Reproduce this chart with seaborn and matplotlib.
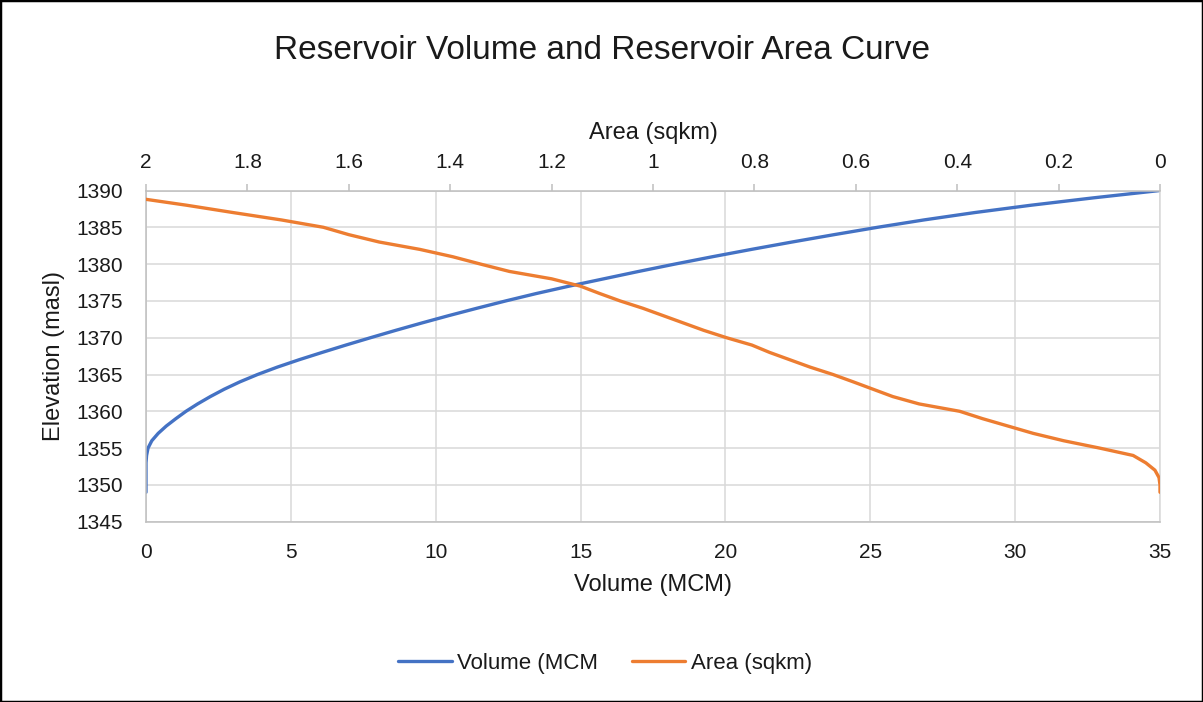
import matplotlib
matplotlib.use("Agg")
import matplotlib.pyplot as plt
from matplotlib.patches import Rectangle
from matplotlib.ticker import MultipleLocator, FuncFormatter
import seaborn as sns
import pandas as pd

# ---- data ----
elevation = [1349, 1350, 1351, 1352, 1353, 1354, 1355, 1356, 1357, 1358,
             1359, 1360, 1361, 1362, 1363, 1364, 1365, 1366, 1367, 1368,
             1369, 1370, 1371, 1372, 1373, 1374, 1375, 1376, 1377, 1378,
             1379, 1380, 1381, 1382, 1383, 1384, 1385, 1386, 1387, 1388,
             1389, 1390]
volume_mcm = [0.0, 0.0, 0.0, 0.0, 0.0, 0.02, 0.07, 0.2, 0.42, 0.7,
              1.03, 1.38, 1.78, 2.22, 2.7, 3.24, 3.85, 4.53, 5.28, 6.08,
              6.9, 7.75, 8.62, 9.52, 10.45, 11.42, 12.42, 13.47, 14.6, 15.8,
              17.0, 18.25, 19.55, 20.9, 22.3, 23.75, 25.25, 26.85, 28.6, 30.55,
              32.7, 35.0]
area_sqkm = [0.0, 0.0, 0.002, 0.01, 0.028, 0.053, 0.119, 0.19, 0.25, 0.3,
             0.35, 0.395, 0.475, 0.527, 0.566, 0.605, 0.645, 0.69, 0.73, 0.77,
             0.805, 0.855, 0.9, 0.94, 0.98, 1.02, 1.065, 1.105, 1.143, 1.2,
             1.283, 1.34, 1.395, 1.46, 1.54, 1.6, 1.65, 1.733, 1.828, 1.92,
             2.02, 2.1]

title = "Reservoir Volume and Reservoir Area Curve"
volume_label = "Volume (MCM)"
area_label = "Area (sqkm)"
elev_label = "Elevation (masl)"
legend_labels = ["Volume (MCM", "Area (sqkm)"]

df = pd.DataFrame({"elevation": elevation, "volume": volume_mcm, "area": area_sqkm})

# ---- style ----
sns.set_theme(style="white")
plt.rcParams["font.family"] = ["Liberation Sans", "DejaVu Sans"]
text_color = "#1a1a1a"
grid_color = "#D9D9D9"
axis_color = "#BFBFBF"
blue = "#4472C4"
orange = "#ED7D31"

W, H = 1203, 702
fig = plt.figure(figsize=(W / 100, H / 100), dpi=100)
fig.patch.set_facecolor("white")

left_px, right_px, top_px, bottom_px = 146, 1160, 190.5, 521.7
ax = fig.add_axes([left_px / W, 1 - bottom_px / H,
                   (right_px - left_px) / W, (bottom_px - top_px) / H])
ax2 = ax.twiny()

# volume (primary axes)
sns.lineplot(data=df, x="volume", y="elevation", sort=False, estimator=None,
             ax=ax, color=blue, linewidth=2.4, label=legend_labels[0], legend=False)
# area (secondary reversed top axis)
sns.lineplot(data=df, x="area", y="elevation", sort=False, estimator=None,
             ax=ax2, color=orange, linewidth=2.4, label=legend_labels[1], legend=False)

ax.set_xlim(0, 35)
ax.set_ylim(1345, 1390)
ax2.set_xlim(2, 0)
ax.xaxis.set_major_locator(MultipleLocator(5))
ax.yaxis.set_major_locator(MultipleLocator(5))
ax2.xaxis.set_major_locator(MultipleLocator(0.2))
ax2.xaxis.set_major_formatter(FuncFormatter(lambda v, p: f"{v:g}" if abs(v) > 1e-9 else "0"))

ax.grid(True, color=grid_color, linewidth=1.1)
ax.set_axisbelow(True)

for s in ["left", "bottom"]:
    ax.spines[s].set_color(axis_color)
    ax.spines[s].set_linewidth(1.1)
ax.spines["top"].set_visible(False)
ax.spines["right"].set_color(grid_color)
ax.spines["right"].set_linewidth(1.1)
for s in ["left", "bottom", "right"]:
    ax2.spines[s].set_visible(False)
ax2.spines["top"].set_color(axis_color)
ax2.spines["top"].set_linewidth(1.1)

ax.tick_params(axis="x", length=0, pad=15, labelsize=15, labelcolor=text_color)
ax.tick_params(axis="y", length=0, pad=16.5, labelsize=15, labelcolor=text_color)
ax2.tick_params(axis="x", direction="out", length=5, width=1.1, color=axis_color,
                pad=8.6, labelsize=15, labelcolor=text_color)

ax.set_xlabel(volume_label, fontsize=17, labelpad=9, color=text_color)
ax.set_ylabel(elev_label, fontsize=17, labelpad=8, color=text_color)
ax2.set_xlabel(area_label, fontsize=17, labelpad=9.6, color=text_color)

fig.text(0.5, 1 - 59.3 / H, title, ha="center", va="baseline",
         fontsize=24, color=text_color)

h1, _ = ax.get_legend_handles_labels()
h2, _ = ax2.get_legend_handles_labels()
fig.legend(h1 + h2, legend_labels, loc="center", bbox_to_anchor=(0.503, 1 - 663 / H),
           ncol=2, frameon=False, fontsize=16, handlelength=2.4,
           handletextpad=0.25, columnspacing=1.5, labelcolor=text_color)

fig.patches.append(Rectangle((0, 0), 1, 1, transform=fig.transFigure, fill=False,
                             edgecolor="#000000", linewidth=2.5, zorder=10))

fig.savefig("out.png", dpi=100, facecolor="white")
